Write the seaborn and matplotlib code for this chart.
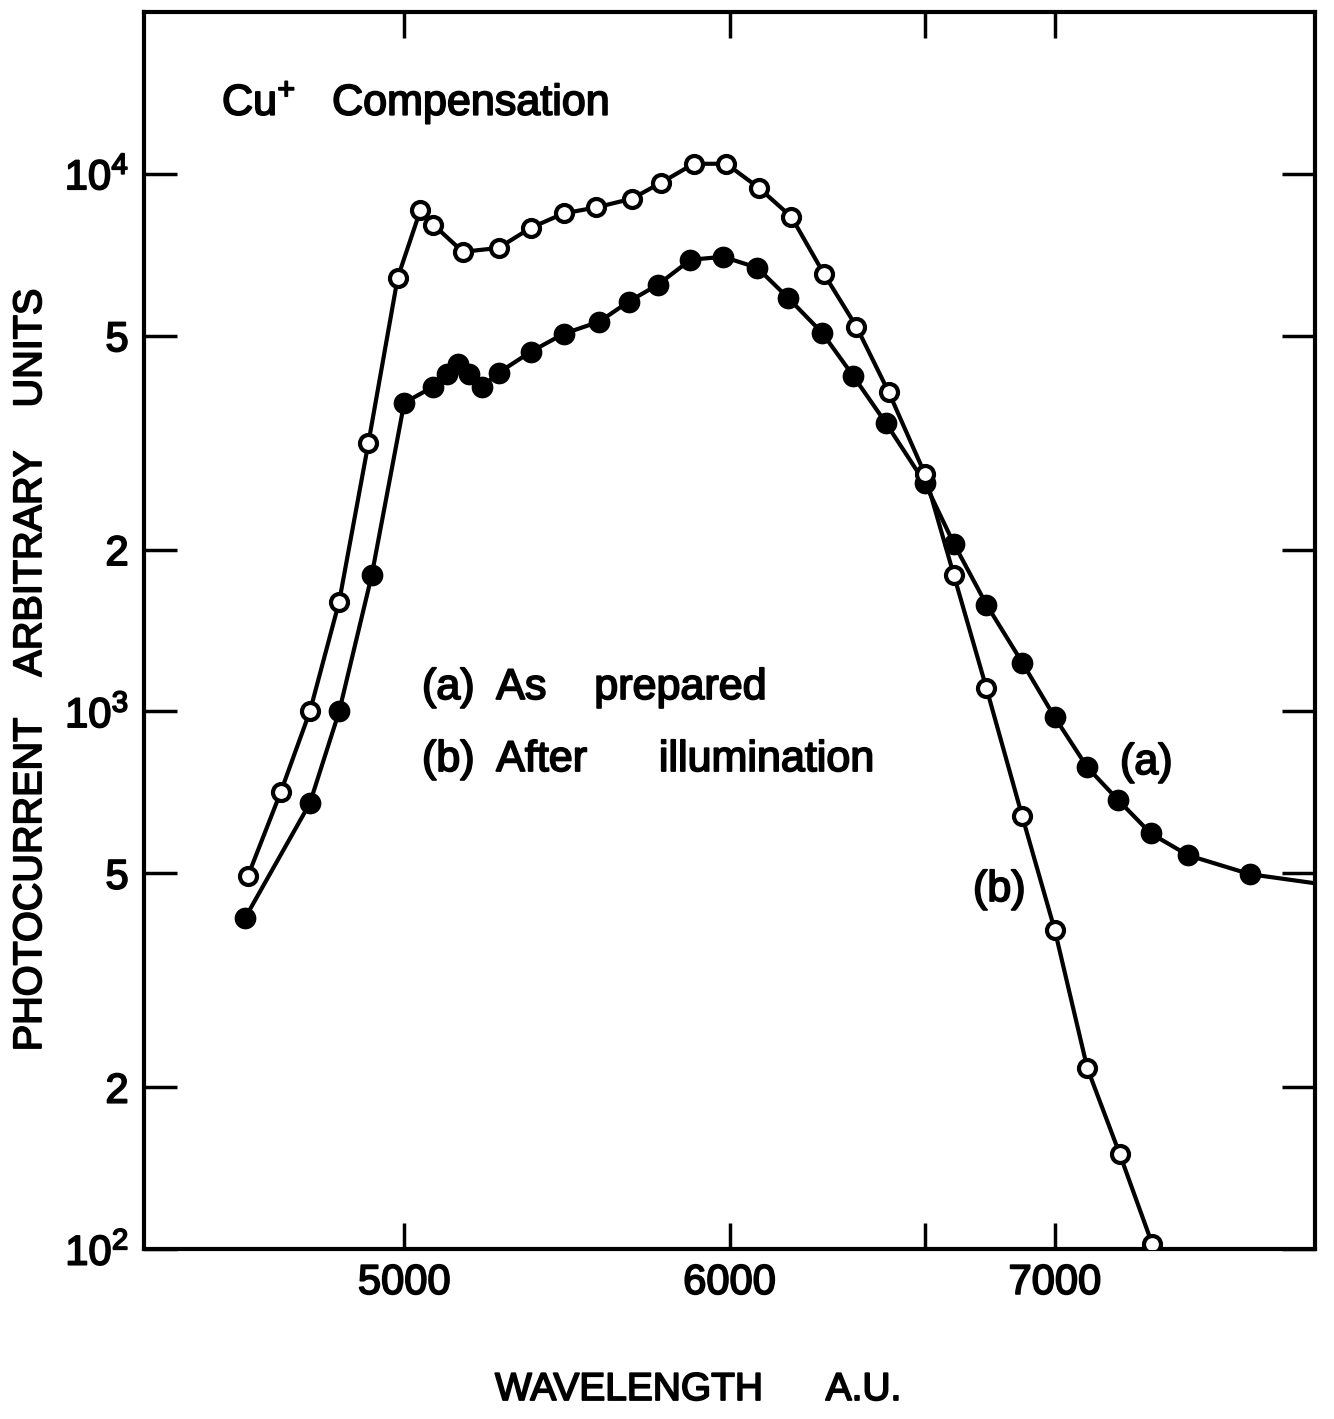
import numpy as np
import pandas as pd
import matplotlib
matplotlib.use("Agg")
import matplotlib.pyplot as plt
import matplotlib.patheffects as pe
import seaborn as sns
from matplotlib.ticker import FixedLocator, FixedFormatter, NullLocator

# ---------------- data ----------------
# (b) After illumination  -- open circles
wavelength_b = [4520, 4620, 4710, 4800, 4890, 4980, 5050, 5090, 5180, 5290,
                5390, 5490, 5590, 5700, 5790, 5890, 5990, 6090, 6190, 6290,
                6390, 6490, 6600, 6690, 6790, 6900, 7000, 7100, 7200, 7300]
photocurrent_b = [495, 707, 1000, 1600, 3160, 6410, 8570, 8040, 7160, 7280,
                  7940, 8440, 8660, 8990, 9630, 10440, 10440, 9420, 8320, 6520,
                  5200, 3920, 2770, 1790, 1104, 638, 392, 217, 150, 102]

# (a) As prepared  -- filled circles
wavelength_a = [4510, 4710, 4800, 4900, 5000, 5090, 5130, 5165, 5200, 5240,
                5290, 5390, 5490, 5600, 5690, 5780, 5880, 5980, 6085, 6180,
                6285, 6380, 6480, 6600, 6690, 6790, 6900, 7000, 7100, 7195,
                7295, 7410, 7600]
photocurrent_a = [412, 675, 1000, 1790, 3750, 4020, 4250, 4430, 4250, 4020,
                  4265, 4670, 5040, 5310, 5785, 6220, 6920, 7010, 6690, 5880,
                  5060, 4210, 3445, 2665, 2050, 1580, 1233, 975, 787, 684,
                  593, 540, 498]
# curve (a) continues past the last measured point to the frame edge
wavelength_a_tail = [7800]
photocurrent_a_tail = [479]

x_ticks = [5000, 6000, 7000]
x_tick_labels = ["5000", "6000", "7000"]
x_extra_ticks = [6600]
y_ticks = [100, 200, 500, 1000, 2000, 5000, 10000]
y_tick_labels = [r"$\mathregular{10^{2}}$", "2", "5", r"$\mathregular{10^{3}}$",
                 "2", "5", r"$\mathregular{10^{4}}$"]

# ---------------- style ----------------
sns.set_theme(style="ticks")
plt.rcParams["font.family"] = ["Liberation Sans", "DejaVu Sans"]
plt.rcParams["mathtext.fontset"] = "custom"
plt.rcParams["mathtext.rm"] = "Liberation Sans"
plt.rcParams["mathtext.it"] = "Liberation Sans:italic"
plt.rcParams["mathtext.bf"] = "Liberation Sans:bold"

heavy = [pe.withStroke(linewidth=1.3, foreground="black")]

fig = plt.figure(figsize=(13.34, 14.19), dpi=100)
ax = fig.add_axes([144 / 1334, 1 - 1249 / 1419, (1315 - 144) / 1334, (1249 - 12) / 1419])
ax.set_yscale("log")

df_a = pd.DataFrame({"wl": wavelength_a, "pc": photocurrent_a})
df_a_line = pd.DataFrame({"wl": wavelength_a + wavelength_a_tail,
                          "pc": photocurrent_a + photocurrent_a_tail})
df_b = pd.DataFrame({"wl": wavelength_b, "pc": photocurrent_b})

lw = 3.0
sns.lineplot(data=df_a_line, x="wl", y="pc", ax=ax, color="black", lw=lw,
             sort=False, estimator=None, zorder=2)
sns.lineplot(data=df_b, x="wl", y="pc", ax=ax, color="black", lw=lw,
             sort=False, estimator=None, zorder=2)
sns.scatterplot(data=df_a, x="wl", y="pc", ax=ax, s=200, color="black",
                edgecolor="black", linewidth=1.5, zorder=3)
sns.scatterplot(data=df_b, x="wl", y="pc", ax=ax, s=150, color="white",
                edgecolor="black", linewidth=3.0, zorder=4)

ax.set_xlim(4200, 7800)
ax.set_ylim(100, 20000)

ax.xaxis.set_major_locator(FixedLocator(x_ticks))
ax.xaxis.set_major_formatter(FixedFormatter(x_tick_labels))
ax.xaxis.set_minor_locator(FixedLocator(x_extra_ticks))
ax.yaxis.set_major_locator(FixedLocator(y_ticks))
ax.yaxis.set_major_formatter(FixedFormatter(y_tick_labels))
ax.yaxis.set_minor_locator(NullLocator())

for s in ax.spines.values():
    s.set_visible(True)
    s.set_linewidth(3)
    s.set_color("black")

ax.tick_params(axis="x", which="both", direction="in", top=True, bottom=True,
               length=19, width=2.5, labelsize=30, pad=10, colors="black")
ax.tick_params(axis="y", which="both", direction="in", left=True, right=True,
               length=24, width=2.5, labelsize=30, pad=11, colors="black")
for lab in ax.get_xticklabels() + ax.get_yticklabels():
    lab.set_path_effects(heavy)

ax.set_xlabel("WAVELENGTH      A.U.", fontsize=28, color="black")
ax.xaxis.set_label_coords((698 - 144) / 1171, (1249 - 1372) / 1237)
ax.xaxis.label.set_path_effects(heavy)
ax.set_ylabel("PHOTOCURRENT    ARBITRARY    UNITS", fontsize=28.5, color="black")
ax.yaxis.label.set_va("center")
ax.yaxis.set_label_coords((30 - 144) / 1171, (1249 - 670) / 1237)
ax.yaxis.label.set_path_effects(heavy)

texts = [
    ((222 - 144) / 1171, (1249 - 115) / 1237, r"$\mathregular{Cu^{+}}$   Compensation", "baseline"),
    ((422 - 144) / 1171, (1249 - 688) / 1237, "(a)  As    prepared", "center"),
    ((422 - 144) / 1171, (1249 - 760) / 1237, "(b)  After      illumination", "center"),
    ((1120 - 144) / 1171, (1249 - 763) / 1237, "(a)", "center"),
    ((973 - 144) / 1171, (1249 - 890) / 1237, "(b)", "center"),
]
for tx, ty, s, va in texts:
    t = ax.text(tx, ty, s, transform=ax.transAxes, fontsize=31, ha="left",
                va=va, color="black")
    t.set_path_effects(heavy)

fig.savefig("out.png", dpi=100, facecolor="white")
